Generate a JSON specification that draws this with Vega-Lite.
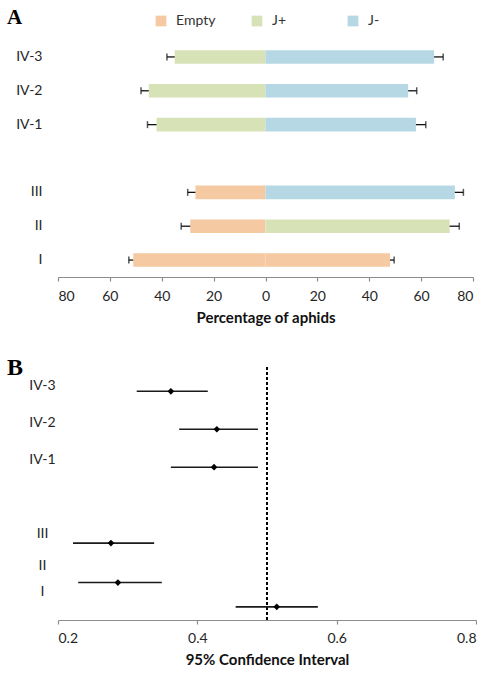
{
  "$schema": "https://vega.github.io/schema/vega-lite/v6.json",
  "padding": {"left": 7, "top": 7, "right": 0, "bottom": 0},
  "spacing": 31,
  "config": {
    "view": {"stroke": null},
    "font": "Lato",
    "axis": {
      "grid": false,
      "labelFont": "Lato",
      "labelFontSize": 14,
      "labelColor": "#262626",
      "titleFont": "Lato",
      "titleFontSize": 15,
      "titleFontWeight": "bold",
      "titleColor": "#111111",
      "domainColor": "#8c8c8c",
      "tickColor": "#8c8c8c",
      "domainWidth": 1.2,
      "tickWidth": 1.2
    }
  },
  "vconcat": [
    {
      "width": 415,
      "height": 237,
      "title": {"text": "A", "font": "Liberation Serif", "fontSize": 21, "fontWeight": "bold", "anchor": "start", "frame": "group", "dx": -51, "offset": 12, "color": "#000000"},
      "data": {
        "values": [
          {"group": "IV-3", "cat": "J+", "pct": -35, "upper": -38},
          {"group": "IV-3", "cat": "J-", "pct": 65, "upper": 68.5},
          {"group": "IV-2", "cat": "J+", "pct": -45, "upper": -48},
          {"group": "IV-2", "cat": "J-", "pct": 55, "upper": 58.3},
          {"group": "IV-1", "cat": "J+", "pct": -42, "upper": -45.5},
          {"group": "IV-1", "cat": "J-", "pct": 58, "upper": 61.8},
          {"group": "III", "cat": "Empty", "pct": -27, "upper": -30},
          {"group": "III", "cat": "J-", "pct": 73, "upper": 76.3},
          {"group": "II", "cat": "Empty", "pct": -29, "upper": -32.5},
          {"group": "II", "cat": "J+", "pct": 71, "upper": 74.7},
          {"group": "I", "cat": "Empty", "pct": -51, "upper": -52.7},
          {"group": "I", "cat": "Empty", "pct": 48, "upper": 49.6}
        ]
      },
      "encoding": {
        "y": {
          "field": "group",
          "type": "nominal",
          "scale": {"domain": ["IV-3", "IV-2", "IV-1", "", "III", "II", "I"], "paddingInner": 0.6, "paddingOuter": 0.3},
          "axis": {"title": null, "domain": false, "ticks": false, "labelPadding": 16}
        }
      },
      "layer": [
        {
          "mark": {"type": "bar"},
          "encoding": {
            "x": {
              "field": "pct",
              "type": "quantitative",
              "scale": {"domain": [-80, 80], "nice": false},
              "axis": {
                "title": "Percentage of aphids",
                "values": [-80, -60, -40, -20, 0, 20, 40, 60, 80],
                "labelExpr": "abs(datum.value)",
                "tickSize": 4,
                "labelPadding": 8,
                "titlePadding": 7
              }
            },
            "color": {
              "field": "cat",
              "type": "nominal",
              "scale": {"domain": ["Empty", "J+", "J-"], "range": ["#f5c9a1", "#d7e3b6", "#b5d8e4"]},
              "legend": {
                "title": null,
                "orient": "none",
                "direction": "horizontal",
                "legendX": 96,
                "legendY": -26,
                "symbolType": "square",
                "symbolSize": 115,
                "symbolStrokeWidth": 0,
                "symbolOpacity": 1,
                "labelFont": "Lato",
                "labelFontSize": 14,
                "labelColor": "#333333",
                "labelOffset": 8,
                "gridAlign": "all",
                "columnPadding": 34
              }
            }
          }
        },
        {
          "mark": {"type": "rule", "color": "#9a9a9a", "strokeWidth": 1.5},
          "encoding": {"x": {"datum": 0, "type": "quantitative"}}
        },
        {
          "mark": {"type": "rule", "color": "#111111", "strokeWidth": 1.3},
          "encoding": {
            "x": {"field": "pct", "type": "quantitative"},
            "x2": {"field": "upper"}
          }
        },
        {
          "mark": {"type": "tick", "color": "#111111", "size": 7, "thickness": 1.5},
          "encoding": {"x": {"field": "upper", "type": "quantitative"}}
        }
      ]
    },
    {
      "width": 418,
      "height": 253,
      "title": {"text": "B", "font": "Liberation Serif", "fontSize": 24, "fontWeight": "bold", "anchor": "start", "frame": "group", "dx": -51, "offset": -14, "color": "#000000"},
      "data": {
        "values": [
          {"label": "IV-3", "row": 0.64, "est": 0.362, "lo": 0.313, "hi": 0.415},
          {"label": "IV-2", "row": 1.64, "est": 0.428, "lo": 0.374, "hi": 0.487},
          {"label": "IV-1", "row": 2.64, "est": 0.424, "lo": 0.362, "hi": 0.487},
          {"label": "III", "row": 4.64, "est": 0.276, "lo": 0.2215, "hi": 0.338},
          {"label": "II", "row": 5.68, "est": 0.286, "lo": 0.229, "hi": 0.349},
          {"label": "I", "row": 6.32, "est": 0.514, "lo": 0.455, "hi": 0.573}
        ]
      },
      "encoding": {
        "y": {
          "field": "row",
          "type": "quantitative",
          "scale": {"domain": [0, 6.667], "nice": false, "zero": false, "reverse": true},
          "axis": {
            "title": null,
            "domain": false,
            "ticks": false,
            "labelAlign": "center",
            "labelBaseline": "middle",
            "labelPadding": 16,
            "values": [0.48, 1.45, 2.43, 4.39, 5.24, 5.92],
            "labelExpr": "{'0.48': 'IV-3', '1.45': 'IV-2', '2.43': 'IV-1', '4.39': 'III', '5.24': 'II', '5.92': 'I'}[datum.value]"
          }
        }
      },
      "layer": [
        {
          "mark": {"type": "rule", "color": "#000000", "strokeWidth": 1.2, "strokeDash": [3, 2]},
          "encoding": {"x": {"datum": 0.5, "type": "quantitative"}, "y": null}
        },
        {
          "mark": {"type": "rule", "color": "#1a1a1a", "strokeWidth": 1.6},
          "encoding": {
            "x": {
              "field": "lo",
              "type": "quantitative",
              "scale": {"domain": [0.2, 0.8], "nice": false, "zero": false},
              "axis": {
                "title": "95% Confidence Interval",
                "values": [0.2, 0.4, 0.6, 0.8],
                "format": ".1f",
                "tickSize": 4,
                "labelPadding": 7.5,
                "titlePadding": 7
              }
            },
            "x2": {"field": "hi"}
          }
        },
        {
          "mark": {"type": "point", "shape": "diamond", "filled": true, "color": "#000000", "size": 45, "opacity": 1},
          "encoding": {"x": {"field": "est", "type": "quantitative"}}
        }
      ]
    }
  ]
}
